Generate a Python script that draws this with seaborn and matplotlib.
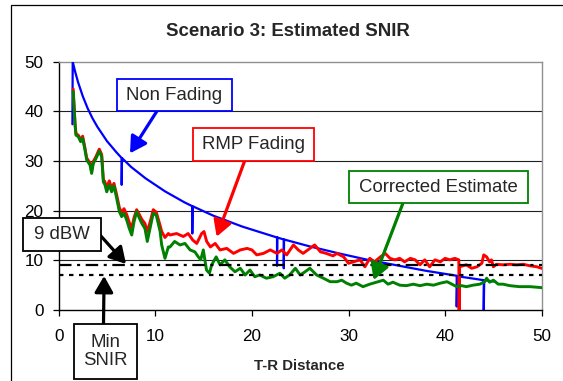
import matplotlib
matplotlib.use("Agg")
import matplotlib.pyplot as plt
from matplotlib.patches import Rectangle
import pandas as pd
import seaborn as sns

# ---- data -------------------------------------------------------------
# Non-fading (path loss only) SNIR with its deep notches
nonfading_dist = [1.42, 1.45, 1.7, 2.0, 2.5, 3.0, 3.5, 4.0, 5.0, 6.0,
                  6.52, 6.52, 6.55, 7.5, 9.0, 11.0, 13.0,
                  13.83, 13.83, 13.86, 16.0, 19.0,
                  22.6, 22.6, 22.63, 23.3, 23.3, 23.33,
                  26.0, 29.0, 32.0, 35.0, 38.0,
                  41.2, 41.2, 41.25, 43.0, 44.0, 44.0, 44.05, 45.2]
nonfading_snir = [37.4, 50.0, 48.0, 45.9, 43.0, 40.6, 38.6, 36.9, 34.0, 31.7,
                  30.6, 25.2, 30.6, 28.8, 26.5, 23.9, 21.7,
                  20.9, 15.4, 20.9, 19.0, 16.8,
                  14.6, 8.9, 14.6, 14.2, 8.4, 14.2,
                  12.8, 11.4, 10.1, 9.0, 7.9,
                  6.9, 0.7, 6.8, 6.3, 6.0, 0.0, 6.0, 5.7]

# RMP fading SNIR
rmp_dist = [1.5, 1.6, 1.69, 1.79, 2.03, 2.27, 2.48, 2.72, 2.9, 3.24, 3.41,
            3.58, 3.86, 4.2, 4.45, 4.62, 4.79, 4.97, 5.24, 5.48, 5.72, 6.0,
            6.28, 6.52, 6.76, 7.04, 7.31, 7.56, 7.8, 8.07, 8.35, 8.59, 8.93,
            9.17, 9.45, 9.79, 10.1, 10.5, 10.66, 11.0, 11.35, 11.52, 12.2,
            12.9, 13.4, 13.87, 14.29, 14.8, 15.04, 15.32, 15.7, 16.2, 16.7,
            17.4, 18.1, 18.8, 19.5, 20.0, 20.5, 21.2, 21.9, 22.6, 23.1, 23.6,
            24.3, 24.8, 25.3, 26.0, 26.5, 27.1, 27.7, 28.4, 28.8, 29.5, 30.0,
            30.5, 31.2, 31.7, 32.2, 32.7, 33.3, 33.8, 34.3, 34.8, 35.3, 35.8,
            36.4, 36.9, 37.4, 37.9, 38.4, 38.95, 39.5, 40.0, 40.5, 41.0,
            41.42, 41.45, 41.5, 42.2, 42.75, 43.3, 43.8, 44.0, 44.3, 44.6,
            44.8, 45.0, 45.3, 46.0, 46.7, 47.4, 48.1, 48.8, 49.5, 50.0]
rmp_snir = [44.5, 41.0, 37.6, 35.5, 35.2, 34.3, 35.0, 32.6, 30.6, 29.6, 28.0,
            29.9, 30.9, 32.4, 31.3, 26.3, 25.8, 24.6, 26.0, 24.5, 25.5, 23.2,
            20.6, 19.6, 20.4, 19.2, 17.6, 16.5, 18.6, 20.2, 19.2, 18.3, 17.4,
            15.8, 17.6, 20.2, 19.7, 17.0, 15.8, 14.6, 15.4, 15.1, 15.4,
            14.8, 15.4, 14.1, 13.4, 15.4, 15.8, 13.8, 12.7, 13.4, 12.1,
            12.4, 11.4, 12.1, 12.4, 12.1, 11.1, 11.4, 12.1, 11.4, 12.1, 11.1,
            13.1, 12.1, 11.4, 12.4, 13.1, 11.7, 11.4, 10.9, 11.4, 10.7, 9.4,
            9.7, 10.1, 8.7, 10.4, 9.7, 10.7, 11.4, 10.4, 10.1, 10.4, 9.7,
            10.4, 10.1, 9.1, 10.1, 8.7, 10.1, 9.7, 10.4, 10.1, 10.4,
            10.1, 0.0, 8.7, 9.1, 8.4, 8.7, 9.4, 11.1, 10.7, 9.7,
            10.1, 8.7, 9.2, 9.1, 9.2, 9.1, 9.2, 8.9, 8.7, 8.4]

# Corrected SNIR estimate
corr_dist = [1.5, 1.6, 1.69, 1.79, 2.03, 2.27, 2.48, 2.72, 2.9, 3.24, 3.41,
             3.58, 3.86, 4.2, 4.45, 4.62, 4.79, 4.97, 5.24, 5.48, 5.72, 6.0,
             6.28, 6.52, 6.76, 7.04, 7.31, 7.56, 7.8, 8.07, 8.35, 8.59, 8.93,
             9.17, 9.45, 9.79, 10.1, 10.5, 10.66, 11.0, 11.35, 11.52, 12.0,
             12.56, 13.07, 13.6, 14.1, 14.45, 14.7, 14.97, 15.3, 15.6, 15.84,
             16.3, 16.7, 17.2, 17.7, 18.25, 18.8, 19.3, 19.8, 20.3, 20.8,
             21.5, 22.2, 22.9, 23.4, 23.9, 24.5, 25.0, 25.5, 26.0, 26.7,
             27.4, 28.1, 28.8, 29.3, 29.8, 30.3, 30.8, 31.5, 32.2, 32.9,
             33.6, 34.1, 34.6, 35.3, 36.0, 36.7, 37.4, 38.1, 38.8, 39.5,
             40.2, 40.7, 41.2, 41.7, 42.2, 42.9, 43.6, 44.1, 44.3, 44.6,
             45.0, 45.5, 46.0, 46.7, 47.7, 48.8, 50.0]
corr_snir = [44.0, 40.5, 37.3, 35.2, 34.9, 33.9, 34.6, 32.2, 30.2, 29.2, 27.5,
             29.5, 30.5, 32.0, 30.9, 25.8, 25.2, 23.8, 25.2, 23.8, 25.0, 22.5,
             19.8, 18.8, 19.5, 18.1, 16.4, 15.1, 17.8, 19.8, 18.5, 17.5, 16.4,
             13.8, 16.4, 19.5, 19.1, 15.8, 13.1, 10.4, 12.7, 12.7, 13.8,
             13.1, 13.4, 12.1, 11.7, 10.7, 10.1, 12.1, 8.05, 7.4, 9.1,
             10.7, 9.1, 10.1, 8.7, 7.7, 8.4, 7.05, 8.05, 6.7, 7.05,
             6.4, 6.7, 7.4, 6.4, 7.05, 8.4, 7.05, 7.7, 8.4, 7.05,
             6.4, 5.7, 5.7, 6.0, 5.4, 5.0, 5.4, 4.7, 5.2, 5.6,
             6.0, 5.2, 5.6, 5.0, 4.9, 5.2, 4.9, 5.2, 5.0, 5.4,
             5.7, 5.2, 4.7, 4.9, 4.7, 5.0, 5.2, 5.7, 6.4, 5.6,
             6.0, 5.2, 5.2, 4.9, 4.7, 4.7, 4.5]

# Reference levels
level_dist = [0, 50]
level_9dbw = [9, 9]
level_min_snir = [7, 7]

tick_values = [0, 10, 20, 30, 40, 50]

# ---- figure -----------------------------------------------------------
sns.set_style("white")
plt.rcParams["font.family"] = ["Liberation Sans", "DejaVu Sans"]
plt.rcParams["lines.scale_dashes"] = False

W, H = 563, 381
fig = plt.figure(figsize=(W / 100, H / 100), dpi=100)
fig.patch.set_facecolor("white")


def fx(px):
    return px / W


def fy(py):
    return 1 - py / H


ax = fig.add_axes([fx(58.7), fy(310), fx(541.7) - fx(58.7), fy(61.7) - fy(310)])

BLUE, RED, GREEN = "#0000FF", "#FF0000", "#008000"

nonfading = pd.DataFrame({"dist": nonfading_dist, "snir": nonfading_snir})
rmp = pd.DataFrame({"dist": rmp_dist, "snir": rmp_snir})
corr = pd.DataFrame({"dist": corr_dist, "snir": corr_snir})
levels = pd.DataFrame({"dist": level_dist, "dbw9": level_9dbw, "min": level_min_snir})

sns.lineplot(data=nonfading, x="dist", y="snir", ax=ax, color=BLUE, lw=1.6,
             sort=False, estimator=None, legend=False, zorder=3)
sns.lineplot(data=rmp, x="dist", y="snir", ax=ax, color=RED, lw=2.1,
             sort=False, estimator=None, legend=False, zorder=4)
sns.lineplot(data=corr, x="dist", y="snir", ax=ax, color=GREEN, lw=2.1,
             sort=False, estimator=None, legend=False, zorder=5)
l9 = sns.lineplot(data=levels, x="dist", y="dbw9", ax=ax, color="black", lw=1.6,
                  sort=False, estimator=None, legend=False, zorder=6).lines[-1]
l9.set_dashes([9, 4, 2.2, 4])
lmin = sns.lineplot(data=levels, x="dist", y="min", ax=ax, color="black", lw=1.6,
                    sort=False, estimator=None, legend=False, zorder=6).lines[-1]
lmin.set_dashes([3.2, 4])

ax.set_xlim(0, 50)
ax.set_ylim(0, 50)
ax.set_xticks(tick_values)
ax.set_yticks(tick_values)
ax.set_xlabel("")
ax.set_ylabel("")
ax.tick_params(axis="both", direction="out", length=4, width=0.9,
               labelsize=12.3, colors="black", left=True, bottom=True)
ax.tick_params(axis="x", pad=10)
ax.tick_params(axis="y", pad=7)

ax.yaxis.grid(True, color="#202020", lw=0.8)
ax.xaxis.grid(False)
ax.set_axisbelow(True)
glines = ax.yaxis.get_gridlines()
glines[0].set_visible(False)
glines[-1].set_visible(False)

for side in ("top", "right"):
    ax.spines[side].set_color("#909090")
    ax.spines[side].set_linewidth(1.0)
for side in ("left", "bottom"):
    ax.spines[side].set_color("black")
    ax.spines[side].set_linewidth(1.0)

# chart frame
fig.add_artist(Rectangle((fx(11), -0.1), 1.2, fy(5) + 0.1, transform=fig.transFigure,
                         fill=False, edgecolor="black", lw=0.9, zorder=0))

fig.text(fx(288.3), fy(36), "Scenario 3: Estimated SNIR", ha="center",
         va="baseline", fontsize=13.4, fontweight="bold")
fig.text(fx(299.5), fy(370), "T-R Distance", ha="center", va="baseline",
         fontsize=10.8, fontweight="bold")


def label_box(left, top, right, bottom, text, color):
    fig.add_artist(Rectangle((fx(left), fy(bottom)), fx(right) - fx(left),
                             fy(top) - fy(bottom), transform=fig.transFigure,
                             facecolor="white", edgecolor=color, lw=1.3, zorder=5))
    fig.text(fx((left + right) / 2), fy((top + bottom) / 2), text, ha="center",
             va="center", fontsize=13.4, zorder=6, linespacing=1.1)


def pointer(tail, tip, color):
    ax.annotate("", xy=tip, xycoords="data",
                xytext=(fx(tail[0]), fy(tail[1])), textcoords="figure fraction",
                arrowprops=dict(arrowstyle="-|>,head_length=0.7,head_width=0.4",
                                color=color, lw=2.3, shrinkA=0, shrinkB=0,
                                mutation_scale=14),
                annotation_clip=False, zorder=7)


pointer((157, 111), (7.38, 31.55), BLUE)
pointer((245, 160), (16.35, 14.76), RED)
pointer((403, 203), (32.6, 6.04), GREEN)
pointer((100, 235), (6.97, 9.26), "black")
pointer((103.5, 324), (4.7, 6.85), "black")

label_box(117, 79, 232, 111, "Non Fading", BLUE)
label_box(193, 128, 314, 161, "RMP Fading", RED)
label_box(349, 171, 528, 203, "Corrected Estimate", GREEN)
label_box(23, 218, 101, 251, "9 dBW", "black")
label_box(74, 324, 137, 379, "Min\nSNIR", "black")

fig.savefig("out.png", dpi=100)
